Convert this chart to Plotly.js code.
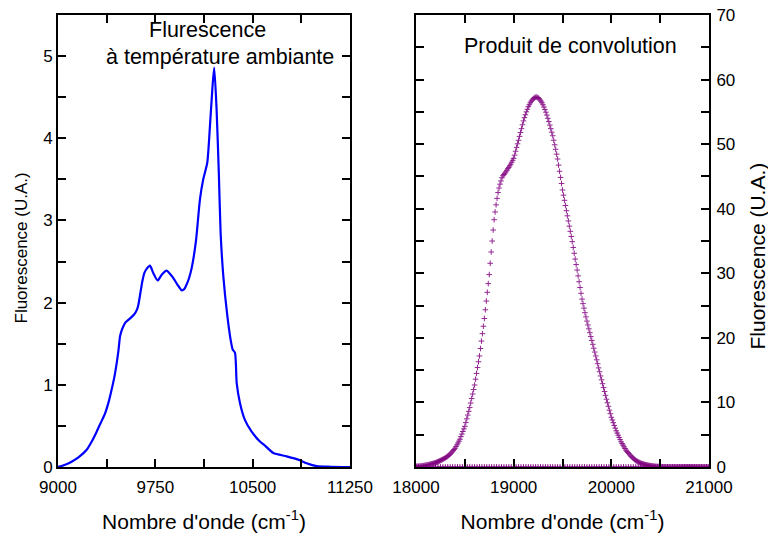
<!DOCTYPE html>
<html>
<head>
<meta charset="utf-8">
<script src="https://cdn.plot.ly/plotly-3.0.1.min.js"></script>
<style>html,body{margin:0;padding:0;background:#fff;}#chart{width:768px;height:535px;}</style>
</head>
<body>
<div id="chart"></div>
<script>
// Left panel: fluorescence at room temperature
const fluoX = [9000, 9050, 9105, 9160, 9221, 9260, 9298, 9330, 9362, 9390, 9413, 9435, 9452, 9466, 9478, 9490, 9503, 9520, 9542, 9570, 9593, 9610, 9619, 9635, 9650, 9665, 9683, 9709, 9734, 9768, 9799, 9837, 9888, 9920, 9953, 9975, 9991, 10010, 10030, 10063, 10094, 10119, 10150, 10171, 10191, 10204, 10222, 10240, 10253, 10274, 10304, 10330, 10346, 10364, 10377, 10402, 10441, 10492, 10556, 10595, 10659, 10762, 10851, 10916, 10993, 11100, 11250];
const fluoY = [0, 0.025, 0.065, 0.12, 0.21, 0.31, 0.43, 0.54, 0.65, 0.79, 0.94, 1.10, 1.26, 1.42, 1.59, 1.66, 1.71, 1.76, 1.79, 1.83, 1.87, 1.92, 1.97, 2.12, 2.26, 2.36, 2.41, 2.45, 2.36, 2.27, 2.34, 2.39, 2.30, 2.22, 2.15, 2.17, 2.22, 2.30, 2.42, 2.75, 3.26, 3.50, 3.70, 4.15, 4.64, 4.86, 4.35, 3.54, 2.85, 2.32, 1.85, 1.55, 1.43, 1.39, 1.02, 0.78, 0.57, 0.43, 0.31, 0.26, 0.17, 0.13, 0.09, 0.045, 0.01, 0.003, 0];

// Right panel: convolution product, sampled every 10 cm-1 from 18000
const convStart = 18000;
const convStep = 10;
const convY = [
0.10,0.11,0.12,0.13,0.14,0.16,0.18,0.20,0.22,0.25,
0.28,0.31,0.34,0.37,0.41,0.45,0.49,0.53,0.57,0.61,
0.65,0.72,0.79,0.86,0.93,1.00,1.08,1.16,1.24,1.32,
1.40,1.51,1.63,1.75,1.87,2.00,2.17,2.35,2.53,2.71,
2.90,3.17,3.44,3.72,4.00,4.30,4.70,5.10,5.50,5.90,
6.30,6.88,7.46,8.04,8.62,9.20,9.90,10.60,11.30,12.00,
12.70,13.60,14.50,15.40,16.30,17.20,18.35,19.50,20.65,21.80,
23.00,24.35,25.70,27.05,28.40,29.80,31.55,33.30,35.00,36.70,
38.30,39.50,40.60,41.60,42.50,43.20,43.80,44.30,44.80,45.10,
45.30,45.50,45.70,45.95,46.20,46.40,46.65,46.90,47.20,47.50,
47.80,48.30,48.90,49.50,50.05,50.60,51.20,51.80,52.40,53.00,
53.60,54.10,54.55,55.00,55.40,55.80,56.10,56.40,56.65,56.85,
57.00,57.15,57.25,57.30,57.25,57.20,57.05,56.85,56.65,56.40,
56.10,55.75,55.35,54.95,54.50,54.00,53.50,52.95,52.40,51.85,
51.30,50.60,49.90,49.20,48.45,47.70,46.75,45.80,44.85,43.90,
42.90,42.10,41.30,40.50,39.70,38.90,38.10,37.30,36.50,35.70,
34.90,34.00,33.10,32.20,31.35,30.50,29.60,28.70,27.80,26.90,
26.00,25.30,24.60,23.90,23.25,22.60,22.00,21.40,20.80,20.20,
19.60,19.00,18.40,17.80,17.20,16.60,16.00,15.35,14.75,14.10,
13.50,12.90,12.30,11.70,11.10,10.50,9.95,9.40,8.80,8.25,
7.70,7.28,6.86,6.44,6.02,5.60,5.26,4.92,4.58,4.24,
3.90,3.64,3.38,3.12,2.86,2.60,2.42,2.24,2.06,1.88,
1.70,1.56,1.42,1.28,1.14,1.00,0.92,0.84,0.76,0.68,
0.60,0.55,0.50,0.45,0.40,0.35,0.32,0.29,0.26,0.23,
0.20,0.18,0.16,0.14,0.12,0.10,0.09,0.08,0.07,0.06,
0.05,0.04,0.03,0.03,0.02,0.02,0.01,0.01,0.01,0,
0,0,0,0,0,0,0,0,0,0,
0,0,0,0,0,0,0,0,0,0,
0,0,0,0,0,0,0,0,0,0,
0,0,0,0,0,0,0,0,0,0,
0];

// Baseline series of the right panel, sampled every 25 cm-1 from 18000
const baseStart = 18000;
const baseStep = 25;
const baseY = [
0,0,0,0,0,0,0,0,0,0,0,0,0,0,0,0,0,0,0,0,
0,0,0,0,0,0,0,0,0,0,0,0,0,0,0,0,0,0,0,0,
0,0,0,0,0,0,0,0,0,0,0,0,0,0,0,0,0,0,0,0,
0,0,0,0,0,0,0,0,0,0,0,0,0,0,0,0,0,0,0,0,
0,0,0,0,0,0,0,0,0,0,0,0,0,0,0,0,0,0,0,0,
0,0,0,0,0,0,0,0,0,0,0,0,0,0,0,0,0,0,0,0,
0];

// Tick values and labels
const leftXTicks = [9000, 9375, 9750, 10125, 10500, 10875, 11250];
const leftXLabels = ['9000', '', '9750', '', '10500', '', '11250'];
const leftYTicks = [0, 0.5, 1, 1.5, 2, 2.5, 3, 3.5, 4, 4.5, 5];
const leftYLabels = ['0', '', '1', '', '2', '', '3', '', '4', '', '5'];
const rightXTicks = [18000, 18500, 19000, 19500, 20000, 20500, 21000];
const rightXLabels = ['18000', '', '19000', '', '20000', '', '21000'];
const rightYTicks = [0, 5, 10, 15, 20, 25, 30, 35, 40, 45, 50, 55, 60, 65, 70];
const rightYLabels = ['0', '', '10', '', '20', '', '30', '', '40', '', '50', '', '60', '', '70'];

const FONT = 'Liberation Sans, Arial, Helvetica, sans-serif';
const PURPLE = '#800080';

const traces = [
  {
    x: fluoX, y: fluoY, type: 'scatter', mode: 'lines',
    line: {color: '#0000ff', width: 2.2, shape: 'spline', smoothing: 0.6},
    xaxis: 'x', yaxis: 'y', hoverinfo: 'skip'
  },
  {
    x0: baseStart, dx: baseStep, y: baseY, type: 'scatter', mode: 'markers',
    marker: {symbol: 'cross-thin', size: 4, line: {width: 1, color: PURPLE}, color: PURPLE},
    xaxis: 'x2', yaxis: 'y2', hoverinfo: 'skip'
  },
  {
    x0: convStart, dx: convStep, y: convY, type: 'scatter', mode: 'markers',
    marker: {symbol: 'cross-thin', size: 4, line: {width: 1, color: PURPLE}, color: PURPLE, opacity: 0.85},
    xaxis: 'x2', yaxis: 'y2', hoverinfo: 'skip'
  }
];

const axisCommon = {
  showline: true, linecolor: '#000', linewidth: 2,
  mirror: 'ticks', ticks: 'inside', ticklen: 8, tickwidth: 2, tickcolor: '#000',
  showgrid: false, zeroline: false, tickmode: 'array',
  tickfont: {family: FONT, size: 17, color: '#000'}
};

const yBottom = (535 - 467) / 535;
const yTop = (535 - 15) / 535;

const layout = {
  width: 768, height: 535,
  margin: {l: 0, r: 0, t: 0, b: 0},
  paper_bgcolor: '#fff', plot_bgcolor: '#fff',
  showlegend: false,
  font: {family: FONT, color: '#000'},
  xaxis: Object.assign({}, axisCommon, {
    domain: [58 / 768, 350 / 768], range: [9000, 11250], anchor: 'y',
    tickvals: leftXTicks, ticktext: leftXLabels, ticklabelstandoff: 4,
    title: {text: "Nombre d'onde (cm<sup>-1</sup>)", font: {family: FONT, size: 21, color: '#000'}, standoff: 18}
  }),
  yaxis: Object.assign({}, axisCommon, {
    domain: [yBottom, yTop], range: [0, 5.5], anchor: 'x',
    tickvals: leftYTicks, ticktext: leftYLabels
  }),
  xaxis2: Object.assign({}, axisCommon, {
    domain: [416 / 768, 709 / 768], range: [18000, 21000], anchor: 'y2',
    tickvals: rightXTicks, ticktext: rightXLabels, ticklabelstandoff: 4,
    title: {text: "Nombre d'onde (cm<sup>-1</sup>)", font: {family: FONT, size: 21, color: '#000'}, standoff: 18}
  }),
  yaxis2: Object.assign({}, axisCommon, {
    domain: [yBottom, yTop], range: [0, 70], anchor: 'x2', side: 'right',
    tickvals: rightYTicks, ticktext: rightYLabels, ticklabelstandoff: 2
  }),
  annotations: [
    {text: 'Flurescence', xref: 'paper', yref: 'paper', x: 147 / 768, y: (535 - 30) / 535,
     xanchor: 'left', yanchor: 'middle', showarrow: false, font: {family: FONT, size: 21.5, color: '#000'}},
    {text: 'à température ambiante', xref: 'paper', yref: 'paper', x: 104 / 768, y: (535 - 57) / 535,
     xanchor: 'left', yanchor: 'middle', showarrow: false, font: {family: FONT, size: 21.5, color: '#000'}},
    {text: 'Produit de convolution', xref: 'paper', yref: 'paper', x: 462 / 768, y: (535 - 46) / 535,
     xanchor: 'left', yanchor: 'middle', showarrow: false, font: {family: FONT, size: 21.5, color: '#000'}},
    {text: 'Fluorescence (U.A.)', xref: 'paper', yref: 'paper', x: 20.5 / 768, y: (535 - 248) / 535,
     xanchor: 'center', yanchor: 'middle', textangle: -90, showarrow: false, font: {family: FONT, size: 17, color: '#000'}},
    {text: 'Fluorescence (U.A.)', xref: 'paper', yref: 'paper', x: 757.5 / 768, y: (535 - 256) / 535,
     xanchor: 'center', yanchor: 'middle', textangle: -90, showarrow: false, font: {family: FONT, size: 21, color: '#000'}}
  ]
};

Plotly.newPlot('chart', traces, layout, {staticPlot: true, displayModeBar: false});
</script>
</body>
</html>
